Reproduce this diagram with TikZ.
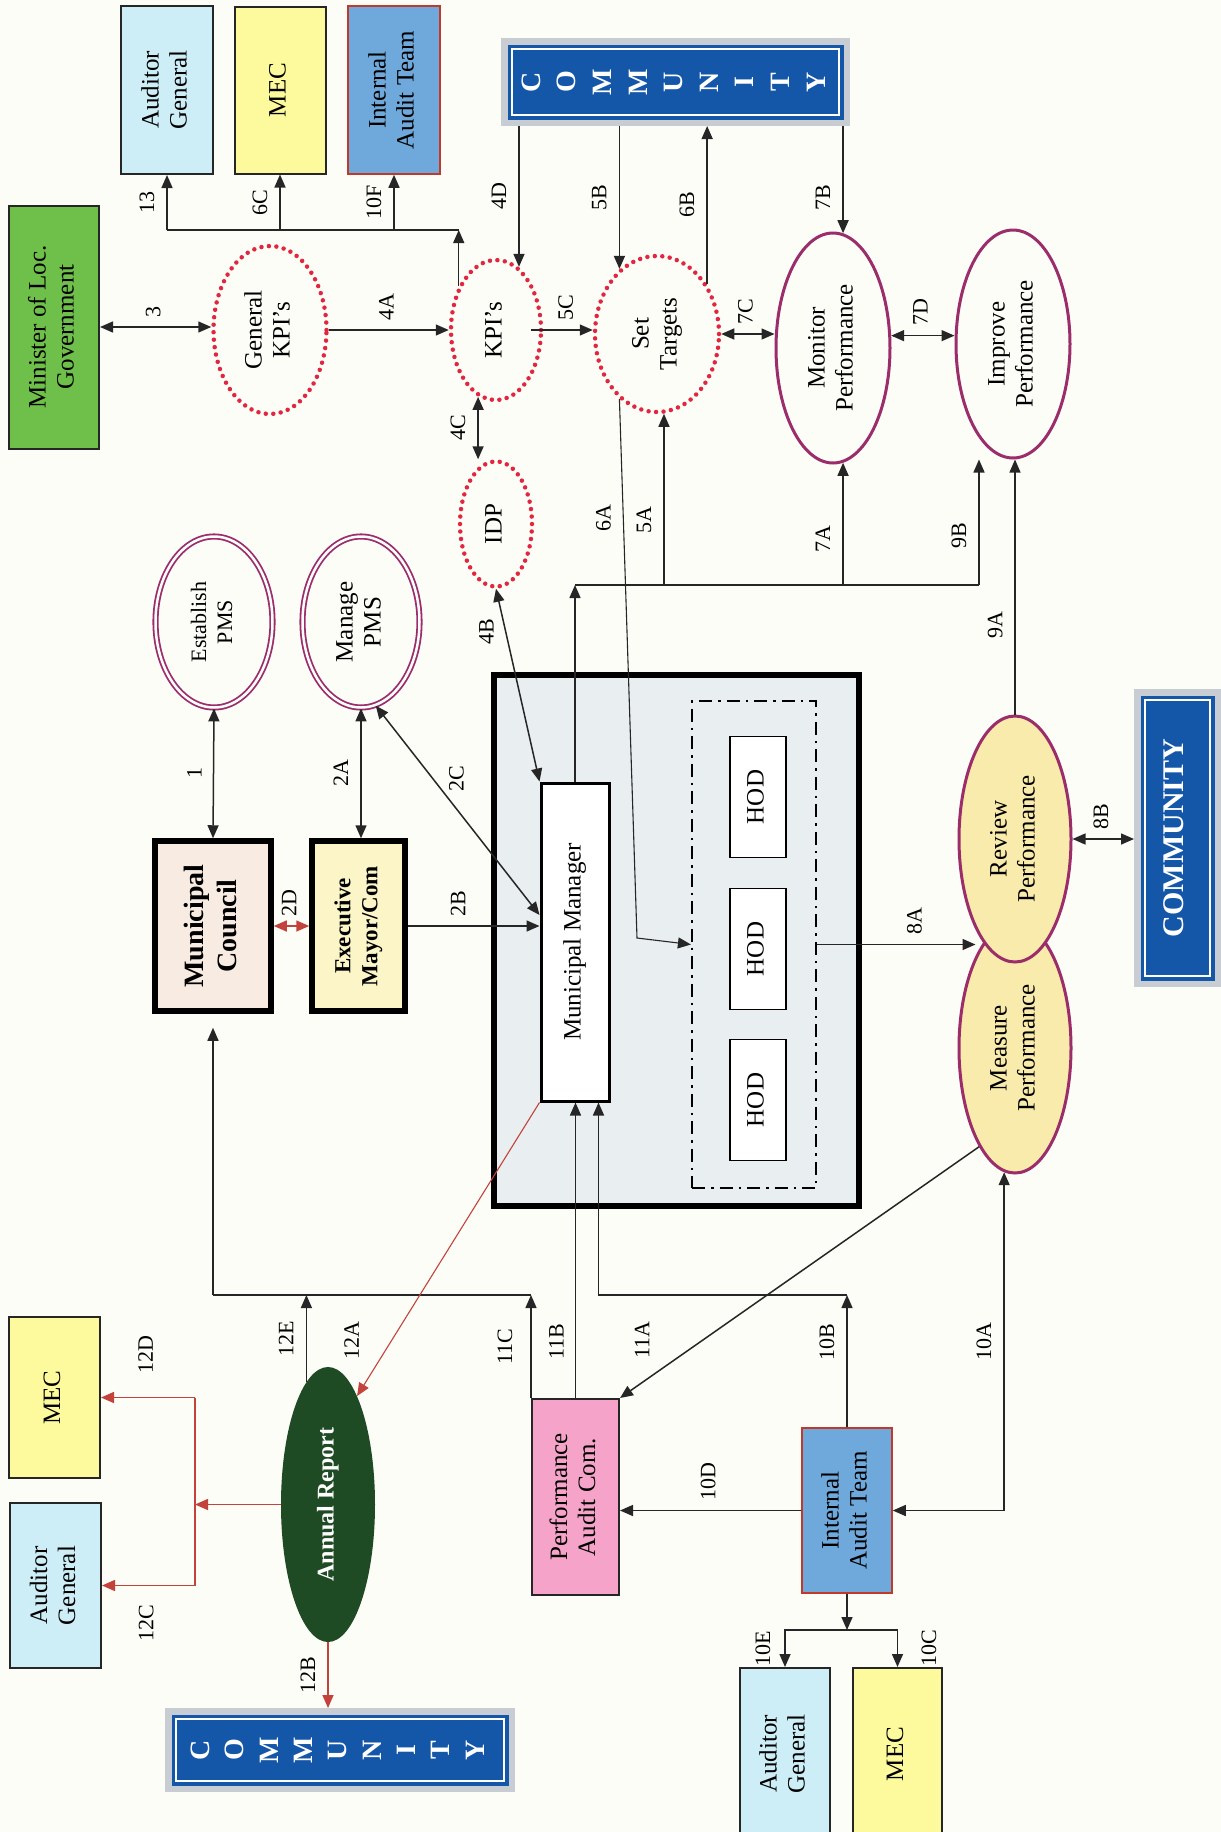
\documentclass[tikz,border=0pt]{standalone}
\usepackage{fontspec}
\setmainfont{Liberation Serif}
\usepackage{graphicx}
\usetikzlibrary{arrows.meta,positioning,shapes.geometric,calc}
\definecolor{paper}{HTML}{FDFDF8}
\definecolor{ministergreen}{HTML}{6FBF4B}
\definecolor{agcyan}{HTML}{CDEEF6}
\definecolor{mecyellow}{HTML}{FCFA9C}
\definecolor{iatblue}{HTML}{6FA8DA}
\definecolor{iatred}{HTML}{C0392B}
\definecolor{commblue}{HTML}{1456A8}
\definecolor{commgray}{HTML}{C8CDD4}
\definecolor{kpired}{HTML}{E3263F}
\definecolor{pmspurple}{HTML}{9B2D6B}
\definecolor{perfyellow}{HTML}{F9EBAB}
\definecolor{councilfill}{HTML}{F8EBE1}
\definecolor{mayorfill}{HTML}{FBF5C8}
\definecolor{marble}{HTML}{E9EEF1}
\definecolor{pacpink}{HTML}{F5A3C8}
\definecolor{annualgreen}{HTML}{1E4A24}
\definecolor{reportred}{HTML}{C4423C}

\newcommand{\vtext}[1]{\rotatebox{90}{\begin{tabular}{@{}c@{}}#1\end{tabular}}}
\newcommand{\commstack}[1]{\rotatebox{90}{\fontsize{28}{#1}\selectfont\bfseries
  \begin{tabular}{@{}c@{}}C\\O\\M\\M\\U\\N\\I\\T\\Y\end{tabular}}}

\begin{document}
\begin{tikzpicture}[
  x=1pt, y=-1pt,
  font=\fontsize{25}{28}\selectfont,
  every node/.style={align=center, inner sep=0pt},
  govbox/.style={rectangle, draw=black!85, line width=2pt},
  iatbox/.style={rectangle, draw=iatred, line width=1.5pt, fill=iatblue},
  leadbox/.style={rectangle, draw=black, line width=5.5pt},
  commbox/.style={rectangle, fill=commblue, draw=white, line width=1.2pt,
                  preaction={draw=commgray, line width=22pt},
                  preaction={draw=commblue, line width=9pt},
                  outer sep=11pt, text=white},
  kpiring/.style={ellipse, draw=kpired, line width=4.5pt,
                  dash pattern=on 0pt off 7.5pt, line cap=round},
  pmsring/.style={ellipse, draw=pmspurple, line width=1.8pt,
                  double=white, double distance=2.5pt},
  perfring/.style={ellipse, draw=pmspurple, line width=3pt},
  hodframe/.style={rectangle, draw=black, line width=2.2pt,
                   dash pattern=on 13pt off 6pt on 2.5pt off 6pt},
  hodbox/.style={rectangle, draw=black, line width=1.8pt, fill=white,
                 minimum width=56pt, minimum height=121pt},
  flowlab/.style={font=\fontsize{22}{24}\selectfont, inner sep=1pt},
  link/.style={draw=black!85, line width=1.5pt},
  thinlink/.style={draw=black!85, line width=1.1pt},
  redlink/.style={draw=reportred, line width=1.6pt},
  >={Triangle[length=13pt,width=11pt]}
]

% ---- Page ---------------------------------------------------------------------
\fill[paper] (0,0) rectangle (1221,1832);
\useasboundingbox (0,0) rectangle (1221,1832);

% ---- Top row: minister, audit bodies, community -------------------------------
\node[govbox, fill=ministergreen, minimum width=90pt, minimum height=243pt]
  (minister) at (54,327) {\vtext{Minister of Loc.\\Government}};
\node[govbox, fill=agcyan, minimum width=92pt, minimum height=168pt]
  (agtop) at (167,90) {\vtext{Auditor\\General}};
\node[govbox, fill=mecyellow, minimum width=91pt, minimum height=167pt]
  (mectop) at (280,90) {\vtext{MEC}};
\node[iatbox, minimum width=92pt, minimum height=168pt]
  (iattop) at (394,90) {\vtext{Internal\\Audit Team}};
\node[commbox, minimum width=327pt, minimum height=66pt]
  (commtop) at (675.5,82) {\commstack{35.6}};

% ---- KPI chain ------------------------------------------------------------------
\node[kpiring, minimum width=113pt, minimum height=168pt]
  (genkpi) at (270,330) {\vtext{General\\KPI’s}};
\node[kpiring, minimum width=90pt, minimum height=140pt]
  (kpis) at (496,330) {\vtext{KPI’s}};
\node[kpiring, minimum width=124pt, minimum height=156pt]
  (settgt) at (657,334) {\vtext{Set\\Targets}};
\node[kpiring, minimum width=72pt, minimum height=125pt]
  (idp) at (496,524) {\vtext{IDP}};
\node[perfring, minimum width=114pt, minimum height=230pt]
  (monitor) at (833,348) {\vtext{Monitor\\Performance}};
\node[perfring, minimum width=114pt, minimum height=228pt]
  (improve) at (1013,344) {\vtext{Improve\\Performance}};

% ---- Council side -----------------------------------------------------------------
\node[pmsring, minimum width=117pt, minimum height=171pt,
      font=\fontsize{22}{26}\selectfont]
  (establish) at (214,622) {\vtext{Establish\\PMS}};
\node[pmsring, minimum width=117pt, minimum height=171pt]
  (managepms) at (361,622) {\vtext{Manage\\PMS}};
\node[leadbox, fill=councilfill, minimum width=116pt, minimum height=170pt,
      font=\bfseries\fontsize{28}{33}\selectfont]
  (council) at (213,926) {\vtext{Municipal\\Council}};
\node[leadbox, fill=mayorfill, minimum width=93pt, minimum height=170pt,
      font=\bfseries\fontsize{23}{27}\selectfont]
  (mayor) at (358.5,926) {\vtext{Executive\\Mayor/Com}};

% ---- Administration ----------------------------------------------------------------
\node[rectangle, draw=black, line width=6pt, fill=marble,
      minimum width=365pt, minimum height=531pt] (admin) at (676.5,940.5) {};
\node[rectangle, draw=black, line width=3pt, fill=white,
      minimum width=68pt, minimum height=318pt]
  (mm) at (575,942) {\vtext{Municipal Manager}};
\node[hodframe, minimum width=124pt, minimum height=487pt] (hods) at (754,944.5) {};
\foreach \hy [count=\hn] in {797,949,1100}
  \node[hodbox] (hod\hn) at (758,\hy) {\vtext{HOD}};

% ---- Review cycle --------------------------------------------------------------------
\node[perfring, fill=perfyellow, minimum width=112pt, minimum height=250pt]
  (measure) at (1015,1048) {\vtext{Measure\\Performance}};
\node[perfring, fill=perfyellow, minimum width=112pt, minimum height=246pt]
  (review) at (1015,839) {\vtext{Review\\Performance}};
\node[commbox, minimum width=65pt, minimum height=276pt,
      font=\bfseries\fontsize{30}{32}\selectfont]
  (commright) at (1177.5,838) {\vtext{COMMUNITY}};

% ---- Reporting (bottom) ------------------------------------------------------------------
\node[ellipse, fill=annualgreen, text=white, minimum width=94pt, minimum height=275pt,
      font=\bfseries\fontsize{24}{28}\selectfont]
  (annual) at (328,1504.5) {\vtext{Annual Report}};
\node[govbox, fill=pacpink, minimum width=87pt, minimum height=196pt]
  (pac) at (575.5,1497) {\vtext{Performance\\Audit Com.}};
\node[iatbox, minimum width=90pt, minimum height=165pt]
  (iatbot) at (847,1510.5) {\vtext{Internal\\Audit Team}};
\node[govbox, fill=agcyan, minimum width=90pt, minimum height=172pt]
  (agbot) at (785,1754) {\vtext{Auditor\\General}};
\node[govbox, fill=mecyellow, minimum width=89pt, minimum height=172pt]
  (mecbot) at (897.5,1754) {\vtext{MEC}};
\node[govbox, fill=mecyellow, minimum width=91pt, minimum height=161pt]
  (meclft) at (54.5,1397.5) {\vtext{MEC}};
\node[govbox, fill=agcyan, minimum width=91pt, minimum height=165pt]
  (aglft) at (55.5,1585.5) {\vtext{Auditor\\General}};
\node[commbox, minimum width=328pt, minimum height=62pt]
  (commbot) at (340,1750) {\commstack{34.3}};

% ---- KPI links ------------------------------------------------------------------------
\draw[link, <->] (minister.east) -- (minister.east -| genkpi.west)
  node[flowlab, midway, above=8pt] {\vtext{3}};
\draw[link, ->] (genkpi.east) -- (kpis.west)
  node[flowlab, midway, above=8pt] {\vtext{4A}};
\coordinate (kpibus) at (0,230);
\draw[link, ->] (kpis.130) -- (kpis.130 |- kpibus);
\draw[link] (agtop.south |- kpibus) -- (kpis.130 |- kpibus);
\foreach \boxname/\flow in {agtop/13, mectop/6C, iattop/10F}
  \draw[link, ->] (\boxname.south |- kpibus) -- (\boxname.south)
    node[flowlab, midway, left=4pt] {\vtext{\flow}};
\draw[link, ->] (commtop.south -| kpis.70) -- (kpis.70)
  node[flowlab, midway, left=4pt] {\vtext{4D}};
\draw[link, ->] (commtop.south -| settgt.120) -- (settgt.120)
  node[flowlab, midway, left=4pt] {\vtext{5B}};
\draw[link, ->] (settgt.45) -- (settgt.45 |- commtop.south)
  node[flowlab, midway, left=4pt] {\vtext{6B}};
\draw[link, ->] (commtop.south -| monitor.85) -- (monitor.85)
  node[flowlab, pos=0.67, left=4pt] {\vtext{7B}};
\draw[link, ->] ([xshift=-12pt]kpis.east) -- (kpis.east -| settgt.west)
  node[flowlab, pos=0.6, above=8pt] {\vtext{5C}};
\draw[link, <->] (kpis.255) -- (kpis.255 |- idp.north)
  node[flowlab, midway, left=4pt] {\vtext{4C}};
\draw[link, <->] (settgt.east) -- (settgt.east -| monitor.west)
  node[flowlab, midway, above=8pt] {\vtext{7C}};
\draw[link, <->] (monitor.12) -- (monitor.12 -| improve.west)
  node[flowlab, midway, above=8pt] {\vtext{7D}};

% ---- Council links -----------------------------------------------------------------------
\draw[link, <->] (establish.south) -- (council.north)
  node[flowlab, midway, left=3pt] {\vtext{1}};
\draw[link, <->] (managepms.south) -- (managepms.south |- mayor.north)
  node[flowlab, midway, left=4pt] {\vtext{2A}};
\draw[redlink, <->] (council.east) -- (mayor.west)
  node[flowlab, midway, above=8pt] {\vtext{2D}};
\draw[link, ->] (mayor.east) -- (mayor.east -| mm.west)
  node[flowlab, pos=0.4, above=8pt] {\vtext{2B}};
\draw[link, <->] (managepms.-80) -- ([yshift=27pt]mm.west)
  node[flowlab, pos=0.35, right=12pt] {\vtext{2C}};
\draw[link, <->] (idp.south) -- (mm.north west)
  node[flowlab, pos=0.22, left=3pt] {\vtext{4B}};

% ---- Targets and monitoring bus ------------------------------------------------------------
\coordinate (tgtbus) at (979,585);
\draw[link, ->] (mm.north) -- (mm.north |- tgtbus);
\draw[link] (mm.north |- tgtbus) -- (tgtbus);
\foreach \ring/\flow in {settgt/5A, monitor/7A}
  \draw[link, ->] (\ring.-85 |- tgtbus) -- (\ring.-85)
    node[flowlab, pos=0.38, left=4pt] {\vtext{\flow}};
\draw[link, ->] (tgtbus) -- (tgtbus |- improve.south)
  node[flowlab, pos=0.39, left=4pt] {\vtext{9B}};
\draw[thinlink, ->] (review.north) -- (review.north |- improve.south)
  node[flowlab, pos=0.35, left=4pt] {\vtext{9A}};
\coordinate (sixabend) at (637,938);
\draw[thinlink, ->] (settgt.240) -- node[flowlab, pos=0.22, left=4pt] {\vtext{6A}}
  (sixabend) -- (hods.west);
\draw[link, ->] (hods.east) -- ($(hods.east -| review.west)+(18,0)$)
  node[flowlab, pos=0.63, above=8pt] {\vtext{8A}};
\draw[link, <->] (review.east) -- (review.east -| commright.west)
  node[flowlab, midway, above=8pt] {\vtext{8B}};

% ---- Audit links ------------------------------------------------------------------------
\coordinate (cnclbus) at (0,1295);
\draw[link] (council.south |- cnclbus) -- (pac.north west |- cnclbus);
\draw[link, ->, shorten >=14pt] (council.south |- cnclbus) -- (council.south);
\draw[link, ->] (annual.100) -- (annual.100 |- cnclbus)
  node[flowlab, midway, left=4pt] {\vtext{12E}};
\draw[link, ->] (pac.north west) -- (pac.north west |- cnclbus)
  node[flowlab, midway, left=10pt] {\vtext{11C}};
\draw[link, ->] (pac.north) -- (pac.north |- mm.south)
  node[flowlab, pos=0.19, left=3pt] {\vtext{11B}};
\draw[link, ->] (iatbot.north) -- (iatbot.north |- cnclbus)
  node[flowlab, pos=0.64, left=4pt] {\vtext{10B}};
\draw[link, ->] (iatbot.north |- cnclbus) -| ([xshift=-12pt]mm.south east);
\draw[link, ->] (measure.250) -- (pac.north east)
  node[flowlab, pos=0.768, left=45pt] {\vtext{11A}};
\draw[link, <->] (iatbot.east) -| (measure.265)
  node[flowlab, pos=0.75, left=4pt] {\vtext{10A}};
\draw[link, ->] (iatbot.west) -- (iatbot.west -| pac.east)
  node[flowlab, midway, above=8pt] {\vtext{10D}};
\coordinate (iatfan) at (0,1630);
\draw[link, ->] (iatbot.south) -- (iatbot.south |- iatfan);
\draw[link, ->] (iatbot.south |- iatfan) -| (agbot.north)
  node[flowlab, pos=0.75, left=6pt] {\vtext{10E}};
\draw[link, ->] (iatbot.south |- iatfan) -| (mecbot.north)
  node[flowlab, pos=0.75, right=20pt] {\vtext{10C}};

% ---- Annual report ---------------------------------------------------------------------------
\draw[redlink, line width=1.1pt, ->] (mm.south west) -- (annual.75)
  node[flowlab, pos=0.81, left=24pt] {\vtext{12A}};
\draw[redlink, ->] (annual.south) -- (annual.south |- commbot.north)
  node[flowlab, midway, left=4pt] {\vtext{12B}};
\coordinate (redfan) at (195,0);
\draw[redlink, ->] (annual.west) -- (annual.west -| redfan);
\draw[redlink, ->] (redfan |- meclft.east) -- (meclft.east)
  node[flowlab, midway, above=22pt] {\vtext{12D}};
\draw[redlink, ->] (redfan |- meclft.east) -- (redfan |- aglft.east) -- (aglft.east)
  node[flowlab, midway, below=18pt] {\vtext{12C}};

\end{tikzpicture}
\end{document}
